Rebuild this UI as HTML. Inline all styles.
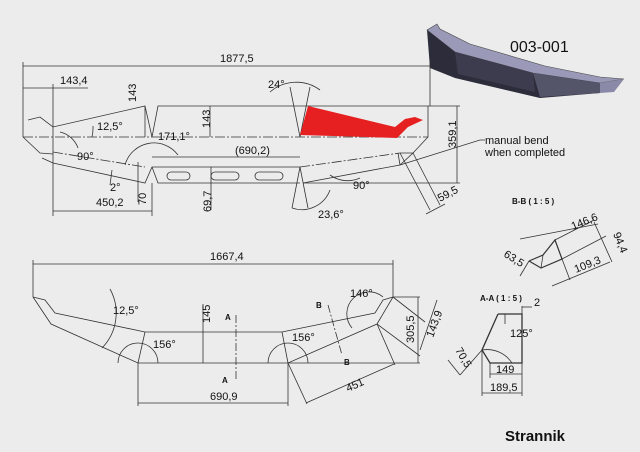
<!DOCTYPE html>
<html><head><meta charset="utf-8"><style>
html,body{margin:0;padding:0;background:#ececec;}
svg{display:block;}
text{font-family:"Liberation Sans",sans-serif;fill:#111;}
</style></head><body>
<svg width="640" height="452" viewBox="0 0 640 452">
<rect width="640" height="452" fill="#ececec"/>
<polygon points="427,30 437,24 440,29 470,44 545,66 600,77 624,79 600,83 533,73 455,52" fill="#9a9ab8" stroke="#444" stroke-width="0.6"/>
<polygon points="427,30 455,52 533,73 600,83 600,93 540,98 455,78 430,68" fill="#2c2c3a"/>
<polygon points="455,52 533,73 535,92 458,74" fill="#3c3c4e"/>
<polygon points="533,73 600,83 600,93 540,97" fill="#55556a"/>
<polygon points="600,83 624,79 614,92 600,93" fill="#8a8aa8"/>
<text x="510" y="52" font-size="16">003-001</text>

<g fill="none" stroke="#333" stroke-width="0.8">
<line x1="23" y1="66" x2="430" y2="66"/><line x1="23" y1="62" x2="23" y2="137"/><line x1="430" y1="62" x2="430" y2="106"/>
<line x1="23" y1="88" x2="88" y2="88"/><line x1="53" y1="84" x2="53" y2="216"/>
<line x1="23" y1="137" x2="428" y2="137" stroke-dasharray="10,2,2,2"/>
<polyline points="28,120 40,117 53,127 145,106 152,137 158,106 428,106 428,137 413,153"/>
<polyline points="23,137 40,153 53,154"/>
<polyline points="42,158 53,163 145,183 152,167 300,167"/>
<line x1="53" y1="152" x2="145" y2="167" stroke-dasharray="10,2,2,2"/>
<polyline points="152,167 158,183 300,183"/>
<rect x="167" y="172" width="23" height="8" rx="4"/><rect x="211" y="172" width="28" height="8" rx="4"/><rect x="255" y="172" width="28" height="8" rx="4"/>
<polyline points="290,87 300,137 310,87"/><polyline points="292,208 300,167 308,208"/>
<line x1="300" y1="167" x2="400" y2="153" stroke-dasharray="10,2,2,2"/>
<polyline points="303,183 400,165 413,153 400,153"/>
<line x1="398" y1="153" x2="400" y2="165"/>
<line x1="428" y1="106" x2="460" y2="106"/><line x1="303" y1="183" x2="460" y2="183"/><line x1="457" y1="106" x2="457" y2="183"/>
<polyline points="400,165 480,140 485,140"/>
<line x1="400" y1="153" x2="430" y2="210"/><line x1="413" y1="153" x2="440" y2="205"/><line x1="426" y1="214" x2="445" y2="204"/>
<line x1="145" y1="106" x2="145" y2="137"/><line x1="138" y1="162" x2="138" y2="202"/>
<line x1="210" y1="106" x2="210" y2="137"/><line x1="211" y1="167" x2="211" y2="210"/>
<line x1="152" y1="157" x2="300" y2="157"/>
<line x1="53" y1="211" x2="152" y2="211"/><line x1="152" y1="183" x2="152" y2="216"/>
<path d="M93,126 A40,40 0 0 1 92,137"/>
<path d="M125,165 A30,30 0 0 1 178,155"/>
<path d="M78,148 A25,25 0 0 0 60,132" />
<path d="M270,92 A40,40 0 0 1 320,90"/>
<path d="M292,208 A30,30 0 0 0 330,190"/>
<path d="M360,178 A30,30 0 0 1 330,175"/>
<path d="M110,185 L112,170"/>
<line x1="33" y1="264" x2="393" y2="264"/><line x1="33" y1="260" x2="33" y2="297"/><line x1="393" y1="260" x2="393" y2="297"/>
<polyline points="33,297 45,300 55,313 145,332 282,332 375,313 383,300 393,297"/>
<polyline points="33,297 51,324 138,363 288,363 377,324 393,297" />
<line x1="145" y1="332" x2="138" y2="363"/><line x1="282" y1="332" x2="288" y2="363"/>
<line x1="236" y1="315" x2="236" y2="380" stroke-dasharray="8,2,2,2"/>
<line x1="328" y1="305" x2="342" y2="355" stroke-dasharray="8,2,2,2"/>
<line x1="203" y1="304" x2="203" y2="363"/>
<line x1="138" y1="363" x2="138" y2="406"/><line x1="288" y1="363" x2="288" y2="406"/><line x1="138" y1="403" x2="288" y2="403"/>
<line x1="288" y1="363" x2="420" y2="363"/><line x1="393" y1="297" x2="420" y2="297"/><line x1="418" y1="297" x2="418" y2="363"/>
<line x1="288" y1="363" x2="307" y2="404"/><line x1="377" y1="324" x2="395" y2="365"/><line x1="306" y1="403" x2="394" y2="364"/>
<line x1="393" y1="297" x2="425" y2="322"/><line x1="377" y1="324" x2="420" y2="356"/><line x1="420" y1="350" x2="437" y2="300"/>
<path d="M118,363 A20,20 0 0 1 158,363"/><path d="M268,363 A20,20 0 0 1 308,363"/>
<path d="M110,289 A50,50 0 0 1 102,348"/>
<path d="M352,328 A22,22 0 0 1 383,297"/>
<polyline points="498,314 522,314 522,363 490,363 482,350 498,314" stroke-width="1.3"/>
<line x1="505" y1="314" x2="505" y2="324"/>
<path d="M482,350 A30,30 0 0 1 512,363"/>
<line x1="490" y1="363" x2="490" y2="378"/><line x1="522" y1="363" x2="522" y2="396"/><line x1="482" y1="350" x2="482" y2="396"/>
<line x1="490" y1="374" x2="522" y2="374"/><line x1="482" y1="393" x2="522" y2="393"/>
<line x1="522" y1="306" x2="522" y2="314"/><line x1="522" y1="307" x2="532" y2="307"/>
<line x1="482" y1="350" x2="460" y2="375"/><line x1="460" y1="375" x2="448" y2="360"/>
<polyline points="529,261 543,255 555,240 562,259 541,268 529,261" stroke-width="1.2"/>
<line x1="541" y1="268" x2="543" y2="255"/>
<line x1="520" y1="239" x2="598" y2="224"/><line x1="555" y1="240" x2="594" y2="220"/><line x1="562" y1="259" x2="606" y2="236"/>
<line x1="594" y1="222" x2="612" y2="262"/><line x1="562" y1="259" x2="570" y2="280"/><line x1="552" y1="286" x2="610" y2="262"/>
<line x1="529" y1="261" x2="520" y2="276"/>
</g>
<polygon points="308,106 395,127 405,119 415,117 423,120 408,127 397,138 300,135" fill="#e62020"/>
<g font-size="11">
<text x="220" y="62">1877,5</text><text x="60" y="84">143,4</text>
<text x="97" y="130">12,5°</text><text x="158" y="140">171,1°</text>
<text x="235" y="154">(690,2)</text><text x="77" y="160">90°</text><text x="110" y="191">2°</text>
<text x="96" y="206">450,2</text><text x="268" y="88">24°</text><text x="318" y="218">23,6°</text><text x="353" y="189">90°</text>
<text x="485" y="144">manual bend</text><text x="485" y="156">when completed</text>
<text x="210" y="260">1667,4</text><text x="113" y="314">12,5°</text><text x="153" y="348">156°</text><text x="292" y="341">156°</text><text x="350" y="297">146°</text>
<text x="210" y="400">690,9</text><text x="510" y="337">125°</text><text x="496" y="373">149</text><text x="490" y="391">189,5</text><text x="534" y="306">2</text>
</g>
<g font-size="11">
<text transform="translate(136,102) rotate(-90)">143</text>
<text transform="translate(210,128) rotate(-90)">143</text>
<text transform="translate(146,205) rotate(-90)">70</text>
<text transform="translate(211,212) rotate(-90)">69,7</text>
<text transform="translate(456,148) rotate(-90)">359,1</text>
<text transform="translate(440,202) rotate(-28)">59,5</text>
<text transform="translate(210,323) rotate(-90)">145</text>
<text transform="translate(414,343) rotate(-90)">305,5</text>
<text transform="translate(433,338) rotate(-70)">143,9</text>
<text transform="translate(348,392) rotate(-24)">451</text>
<text transform="translate(455,350) rotate(60)">70,5</text>
<text transform="translate(573,230) rotate(-22)">146,6</text>
<text transform="translate(613,234) rotate(68)">94,4</text>
<text transform="translate(576,273) rotate(-22)">109,3</text>
<text transform="translate(503,256) rotate(32)">63,5</text>
</g>
<g font-size="8" font-weight="bold">
<text x="512" y="204">B-B  ( 1 : 5 )</text><text x="480" y="301">A-A  ( 1 : 5 )</text>
<text x="225" y="320">A</text><text x="222" y="383">A</text><text x="316" y="308">B</text><text x="344" y="365">B</text>
</g>
<text x="505" y="441" font-size="15" font-weight="bold">Strannik</text>
</svg>
</body></html>
